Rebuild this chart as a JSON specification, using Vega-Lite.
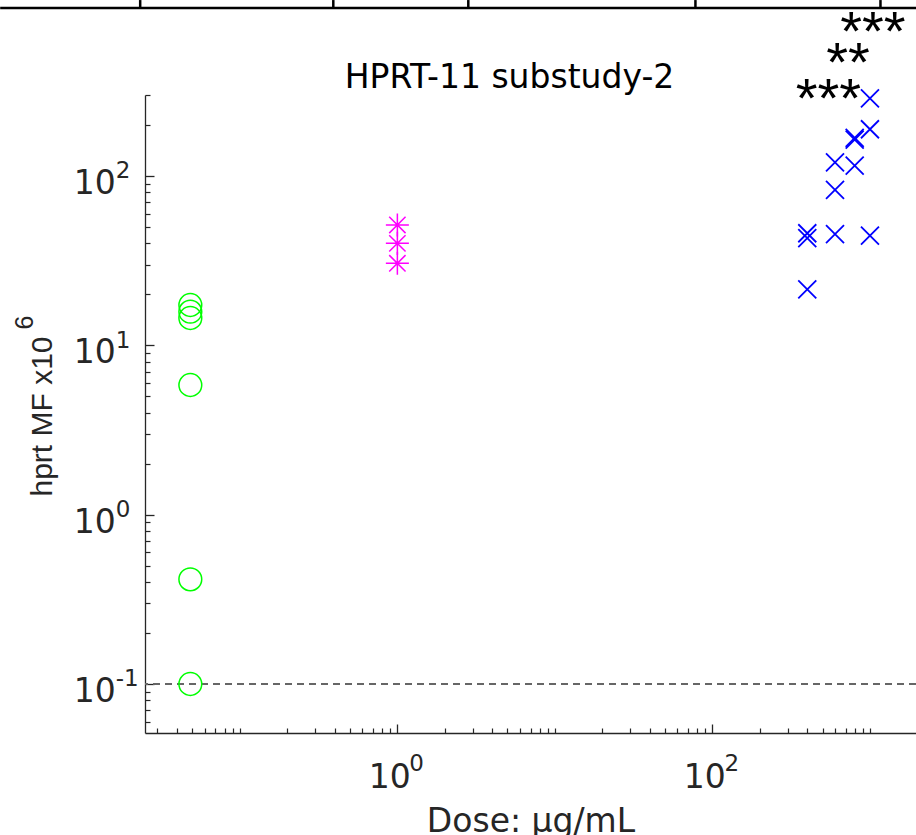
{
  "$schema": "https://vega.github.io/schema/vega-lite/v6.json",
  "width": 771,
  "height": 638,
  "autosize": {"type": "none"},
  "padding": {"left": 145, "top": 95, "right": 0, "bottom": 102},
  "background": "white",
  "config": {
    "view": {"stroke": null},
    "font": "DejaVu Sans",
    "axis": {
      "grid": false,
      "labelFont": "DejaVu Sans",
      "titleFont": "DejaVu Sans",
      "labelColor": "#262626",
      "titleColor": "#262626",
      "tickColor": "#262626",
      "domainColor": "#262626",
      "labelFlush": false,
      "labelOverlap": false,
      "labelBound": false,
      "titleFontWeight": "normal"
    }
  },
  "title": {
    "text": "HPRT-11 substudy-2",
    "frame": "group",
    "anchor": "middle",
    "dx": -21,
    "dy": 129,
    "offset": 7,
    "baseline": "alphabetic",
    "fontSize": 33,
    "fontWeight": "normal",
    "font": "DejaVu Sans",
    "color": "#000000"
  },
  "datasets": {
    "mf": [
      {"g": "c", "dose": 0.0485, "mf": 17.3},
      {"g": "c", "dose": 0.0485, "mf": 15.8},
      {"g": "c", "dose": 0.0485, "mf": 14.5},
      {"g": "c", "dose": 0.0485, "mf": 5.83},
      {"g": "c", "dose": 0.0485, "mf": 0.415},
      {"g": "c", "dose": 0.0485, "mf": 0.1},
      {"g": "m", "dose": 1, "mf": 51.4},
      {"g": "m", "dose": 1, "mf": 40},
      {"g": "m", "dose": 1, "mf": 30.5},
      {"g": "x", "dose": 400, "mf": 45.9},
      {"g": "x", "dose": 400, "mf": 42.9},
      {"g": "x", "dose": 400, "mf": 21.4},
      {"g": "x", "dose": 600, "mf": 120.5},
      {"g": "x", "dose": 600, "mf": 82.7},
      {"g": "x", "dose": 600, "mf": 45.3},
      {"g": "x", "dose": 800, "mf": 164},
      {"g": "x", "dose": 800, "mf": 168},
      {"g": "x", "dose": 800, "mf": 115},
      {"g": "x", "dose": 1000, "mf": 287.6},
      {"g": "x", "dose": 1000, "mf": 188.8},
      {"g": "x", "dose": 1000, "mf": 44.4}
    ],
    "stars": [
      {"dose": 1045, "mf": 554, "label": "***"},
      {"dose": 725, "mf": 363, "label": "**"},
      {"dose": 545, "mf": 222, "label": "***"}
    ],
    "frame": [
      {"dose": 0.00301, "dose2": 1974, "mf": 982, "mf2": 982},
      {"dose": 0.0233, "dose2": 0.0233, "mf": 982, "mf2": 1094},
      {"dose": 0.392, "dose2": 0.392, "mf": 982, "mf2": 1094},
      {"dose": 2.82, "dose2": 2.82, "mf": 982, "mf2": 1094},
      {"dose": 78, "dose2": 78, "mf": 982, "mf2": 1094},
      {"dose": 1166, "dose2": 1166, "mf": 982, "mf2": 1094}
    ]
  },
  "data": {"name": "mf"},
  "layer": [
    {
      "mark": {"type": "point", "opacity": 0},
      "encoding": {
        "x": {
          "field": "dose", "type": "quantitative",
          "scale": {"type": "log", "domain": [0.025, 1960], "nice": false},
          "axis": {
            "orient": "bottom",
            "values": [0.03,0.04,0.05,0.06,0.07,0.08,0.09,0.1,0.2,0.3,0.4,0.5,0.6,0.7,0.8,0.9,2,3,4,5,6,7,8,9,10,20,30,40,50,60,70,80,90,200,300,400,500,600,700,800,900,1000],
            "tickSize": -5, "tickWidth": 1.2, "labels": false, "domain": false, "title": null
          }
        },
        "y": {
          "field": "mf", "type": "quantitative",
          "scale": {"type": "log", "domain": [0.05135, 300.8], "nice": false},
          "axis": {
            "orient": "left",
            "values": [0.06,0.07,0.08,0.09,0.2,0.3,0.4,0.5,0.6,0.7,0.8,0.9,2,3,4,5,6,7,8,9,20,30,40,50,60,70,80,90,200,300],
            "tickSize": -5, "tickWidth": 1.2, "labels": false, "domain": false, "title": null
          }
        }
      }
    },
    {
      "mark": {"type": "point", "opacity": 0},
      "encoding": {
        "x": {
          "field": "dose", "type": "quantitative",
          "scale": {"type": "log", "domain": [0.025, 1960], "nice": false},
          "axis": {
            "orient": "bottom",
            "values": [1, 100],
            "ticks": false, "domain": false, "title": null,
            "labelExpr": "'' + round(log(datum.value) / LN10)",
            "labelFontSize": 23, "labelAlign": "left", "labelBaseline": "top",
            "labelOffset": 11.5, "labelPadding": 19.6
          }
        },
        "y": {
          "field": "mf", "type": "quantitative",
          "scale": {"type": "log", "domain": [0.05135, 300.8], "nice": false},
          "axis": {
            "orient": "left",
            "values": [0.1, 1, 10, 100],
            "ticks": false, "domain": false,
            "labelExpr": "'' + round(log(datum.value) / LN10)",
            "labelFontSize": 23, "labelAlign": "left", "labelBaseline": "middle",
            "labelOffset": -5, "labelPadding": 29.8,
            "title": "6", "titleFont": "Liberation Sans", "titleFontSize": 25, "titleAngle": -90,
            "titleBaseline": "alphabetic", "titleAlign": "center",
            "titleX": -113, "titleY": 227
          }
        }
      }
    },
    {
      "layer": [
        {
          "mark": {"type": "rule", "strokeDash": [7, 5], "color": "#666666", "strokeWidth": 1.2},
          "encoding": {
            "y": {"datum": 0.1, "type": "quantitative", "scale": {"type": "log", "domain": [0.05135, 300.8], "nice": false}, "title": "hprt MF x10"}
          }
        },
        {
          "transform": [{"filter": "datum.g == 'c'"}],
          "mark": {"type": "point", "shape": "circle", "filled": false, "color": "#00ff00", "size": 520, "strokeWidth": 1.5, "opacity": 1},
          "encoding": {
            "x": {
              "field": "dose", "type": "quantitative", "title": "Dose: μg/mL",
              "scale": {"type": "log", "domain": [0.025, 1960], "nice": false},
              "axis": {
                "orient": "bottom",
                "values": [1, 100],
                "tickSize": -9, "tickWidth": 1.3, "domainWidth": 1.3,
                "labelExpr": "'10'",
                "labelFontSize": 33, "labelAlign": "center", "labelBaseline": "top",
                "labelOffset": -8.2, "labelPadding": 37,
                "titleFontSize": 33, "titleBaseline": "alphabetic", "titleAlign": "center",
                "titleX": 385.5, "titleY": 98
              }
            },
            "y": {
              "field": "mf", "type": "quantitative", "title": "hprt MF x10",
              "scale": {"type": "log", "domain": [0.05135, 300.8], "nice": false},
              "axis": {
                "orient": "left",
                "values": [0.1, 1, 10, 100],
                "tickSize": -9, "tickWidth": 1.3, "domainWidth": 1.3,
                "labelExpr": "'10'",
                "labelFontSize": 33, "labelAlign": "right", "labelBaseline": "middle",
                "labelOffset": 7.6, "labelPadding": 38.8,
                "titleFont": "Liberation Sans", "titleFontSize": 30, "titleAngle": -90, "titleBaseline": "alphabetic",
                "titleAlign": "center", "titleX": -94, "titleY": 321
              }
            }
          }
        },
        {
          "transform": [{"filter": "datum.g == 'm'"}],
          "mark": {"type": "point", "shape": "M-1,0H1M0,-1V1M-0.71,-0.71L0.71,0.71M-0.71,0.71L0.71,-0.71", "filled": false, "color": "#ff00ff", "size": 530, "strokeWidth": 1.5, "opacity": 1},
          "encoding": {
            "x": {"field": "dose", "type": "quantitative", "title": "Dose: μg/mL", "scale": {"type": "log", "domain": [0.025, 1960], "nice": false}},
            "y": {"field": "mf", "type": "quantitative", "title": "hprt MF x10", "scale": {"type": "log", "domain": [0.05135, 300.8], "nice": false}}
          }
        },
        {
          "transform": [{"filter": "datum.g == 'x'"}],
          "mark": {"type": "point", "shape": "M-1,-1L1,1M-1,1L1,-1", "filled": false, "color": "#0000ff", "size": 324, "strokeWidth": 1.8, "opacity": 1},
          "encoding": {
            "x": {"field": "dose", "type": "quantitative", "title": "Dose: μg/mL", "scale": {"type": "log", "domain": [0.025, 1960], "nice": false}},
            "y": {"field": "mf", "type": "quantitative", "title": "hprt MF x10", "scale": {"type": "log", "domain": [0.05135, 300.8], "nice": false}}
          }
        },
        {
          "data": {"name": "stars"},
          "mark": {"type": "text", "font": "Liberation Sans", "fontSize": 56, "align": "center", "baseline": "alphabetic", "color": "#000000"},
          "encoding": {
            "x": {"field": "dose", "type": "quantitative", "title": "Dose: μg/mL", "scale": {"type": "log", "domain": [0.025, 1960], "nice": false}},
            "y": {"field": "mf", "type": "quantitative", "title": "hprt MF x10", "scale": {"type": "log", "domain": [0.05135, 300.8], "nice": false}},
            "text": {"field": "label"}
          }
        },
        {
          "data": {"name": "frame"},
          "mark": {"type": "rule", "color": "#000000", "strokeWidth": 2.5},
          "encoding": {
            "x": {"field": "dose", "type": "quantitative", "title": "Dose: μg/mL", "scale": {"type": "log", "domain": [0.025, 1960], "nice": false}},
            "x2": {"field": "dose2"},
            "y": {"field": "mf", "type": "quantitative", "title": "hprt MF x10", "scale": {"type": "log", "domain": [0.05135, 300.8], "nice": false}},
            "y2": {"field": "mf2"}
          }
        }
      ]
    }
  ],
  "resolve": {
    "scale": {"x": "independent", "y": "independent"},
    "axis": {"x": "independent", "y": "independent"}
  }
}
